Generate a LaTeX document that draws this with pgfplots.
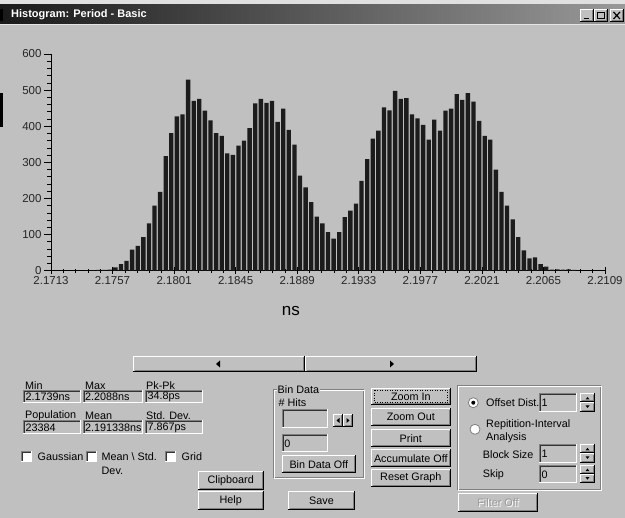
\documentclass[border=0pt]{standalone}
\usepackage{pgfplots}
\pgfplotsset{compat=1.18}
\usepackage{pgfplotstable}
\usepackage{fontspec}
\setmainfont{Liberation Sans}
\definecolor{winbg}{RGB}{192,192,192}
\definecolor{barcol}{RGB}{28,28,28}
\definecolor{dkgray}{RGB}{128,128,128}
\newcommand{\ui}{\fontsize{10.8}{12}\selectfont}

\pgfplotstableread{
x y
2.1739 1
2.1743 1
2.1747 2
2.1751 2
2.1755 3
2.1759 9
2.1763 18
2.1767 27
2.1771 58
2.1775 69
2.1779 93
2.1783 131
2.1787 180
2.1791 218
2.1795 317
2.1799 381
2.1803 427
2.1807 433
2.1811 529
2.1815 470
2.1819 476
2.1823 443
2.1827 416
2.1831 381
2.1835 373
2.1839 325
2.1843 321
2.1847 346
2.1851 360
2.1855 395
2.1859 463
2.1863 476
2.1867 465
2.1871 470
2.1875 412
2.1879 449
2.1883 390
2.1887 349
2.1891 263
2.1895 231
2.1899 190
2.1903 150
2.1907 131
2.1911 107
2.1915 89
2.1919 107
2.1923 148
2.1927 166
2.1931 186
2.1935 249
2.1939 309
2.1943 366
2.1947 388
2.1951 452
2.1955 444
2.1959 498
2.1963 476
2.1967 478
2.1971 433
2.1975 422
2.1979 404
2.1983 363
2.1987 418
2.1991 388
2.1995 443
2.1999 449
2.2003 489
2.2007 473
2.2011 492
2.2015 468
2.2019 415
2.2023 373
2.2027 363
2.2031 280
2.2035 218
2.2039 180
2.2043 142
2.2047 93
2.2051 56
2.2055 34
2.2059 37
2.2063 18
2.2067 11
2.2071 3
2.2075 4
2.2079 3
2.2083 4
2.2087 2
}\histdata

% raised 3D box: x1 y1 x2 y2 (image pixel coordinates, y downward)
\newcommand{\raised}[4]{%
  \fill[winbg] (#1,#2) rectangle (#3,#4);
  \draw[white, line width=1pt] (#1+0.5,#4-1) -- (#1+0.5,#2+0.5) -- (#3-1,#2+0.5);
  \draw[dkgray, line width=1pt] (#1+1.5,#4-1.5) -- (#3-1.5,#4-1.5) -- (#3-1.5,#2+1.5);
  \draw[black, line width=1pt] (#1,#4-0.5) -- (#3-0.5,#4-0.5) -- (#3-0.5,#2);
}
% sunken box
\newcommand{\sunken}[5]{%
  \fill[#5] (#1,#2) rectangle (#3,#4);
  \draw[dkgray, line width=1pt] (#1+0.5,#4) -- (#1+0.5,#2+0.5) -- (#3,#2+0.5);
  \draw[black!80, line width=1pt] (#1+1.5,#4-1) -- (#1+1.5,#2+1.5) -- (#3-1,#2+1.5);
  \draw[white, line width=1pt] (#1,#4-0.5) -- (#3-0.5,#4-0.5) -- (#3-0.5,#2);
}
\newcommand{\btn}[5]{%
  \raised{#1}{#2}{#3}{#4}
  \node[font=\ui, inner sep=0pt] at ({(#1+#3)/2},{(#2+#4)/2}) {#5};
}
\newcommand{\field}[5]{%
  \sunken{#1}{#2}{#3}{#4}{winbg}
  \node[font=\ui, inner sep=0pt, anchor=west] at (#1+2.5,{(#2+#4)/2+0.5}) {#5};
}
\newcommand{\spinner}[4]{%
  \pgfmathsetmacro{\spmid}{(#2+#4)/2}%
  \pgfmathsetmacro{\spx}{(#1+#3)/2}%
  \raised{#1}{#2}{#3}{\spmid}
  \raised{#1}{\spmid}{#3}{#4}
  \fill (\spx-2,\spmid-3) -- (\spx+2,\spmid-3) -- (\spx,\spmid-5.5) -- cycle;
  \fill (\spx-2,\spmid+3) -- (\spx+2,\spmid+3) -- (\spx,\spmid+5.5) -- cycle;
}
\newcommand{\checkbox}[2]{%
  \sunken{#1}{#2}{#1+11.5}{#2+11.5}{white}
}
\newcommand{\etched}[4]{%
  \draw[dkgray, line width=1pt] (#1,#2) rectangle (#3,#4);
  \draw[white, line width=1pt] (#1+1,#2+1) -- (#3+1,#2+1) -- (#3+1,#4+1) -- (#1+1,#4+1) -- cycle;
}

\begin{document}
\begin{tikzpicture}
\useasboundingbox (0,0) rectangle (625pt,-518pt);
\fill[winbg] (0,0) rectangle (625pt,-518pt);

\begin{axis}[
  at={(51pt,-270.7pt)}, anchor=south west,
  scale only axis, width=554pt, height=216.7pt,
  xmin=2.1713, xmax=2.2109, ymin=0, ymax=600,
  ybar, bar width=0.00031,
  axis lines*=left,
  axis line style={black, line width=0.9pt, -},
  xtick={2.1713,2.1757,2.1801,2.1845,2.1889,2.1933,2.1977,2.2021,2.2065,2.2109},
  xticklabels={2.1713,2.1757,2.1801,2.1845,2.1889,2.1933,2.1977,2.2021,2.2065,2.2109},
  minor x tick num=4,
  ytick={0,100,...,600},
  minor y tick num=4,
  /pgf/number format/assume math mode=true,
  xtick align=center, ytick align=outside,
  major tick length=7pt, minor tick length=4pt,
  tick style={black, line width=0.7pt},
  ticklabel style={font=\fontsize{11.5}{13}\selectfont, text=black!85},
  xticklabel style={yshift=1pt},
  yticklabel style={xshift=1pt},
  xlabel={ns},
  xlabel style={font=\fontsize{17}{19}\selectfont, at={(axis description cs:0.433,-0.186)}, anchor=center},
]
\addplot[fill=barcol, draw=none] table {\histdata};
\end{axis}

\begin{scope}[x=1pt, y=-1pt]
% window frame / title bar
\fill[black!12] (0,0) rectangle (625,5);
\shade[left color=black!90, right color=black!40] (0,5) rectangle (625,24);
\draw[white!90!black, line width=1pt] (0,24.5) -- (625,24.5);
\fill[black] (0,9) rectangle (3,21);
\node[anchor=west, text=white, inner sep=0pt, font=\fontsize{11}{13}\bfseries\selectfont] at (11,14.5) {Histogram: Period - Basic};
\raised{580}{9}{594}{22}
\raised{594}{9}{608}{22}
\raised{610}{9}{624}{22}
\draw[black, line width=1.5pt] (583.5,18.5) -- (589,18.5);
\draw[black, line width=0.8pt] (597.5,12.5) rectangle (604.5,18.5);
\draw[black, line width=1.2pt] (613.5,12) -- (620,19) (613.5,19) -- (620,12);
\fill[black] (0,93) rectangle (2.5,127);

% scroll bar
\raised{133}{356}{305}{372}
\raised{305}{356}{477}{372}
\fill[black] (216,364) -- (220,360.5) -- (220,367.5) -- cycle;
\fill[black] (394,364) -- (390,360.5) -- (390,367.5) -- cycle;

% statistics fields
\node[font=\ui, inner sep=0pt, anchor=west] at (25,386) {Min};
\node[font=\ui, inner sep=0pt, anchor=west] at (85,386) {Max};
\node[font=\ui, inner sep=0pt, anchor=west] at (146,386) {Pk-Pk};
\field{23}{390}{81}{403}{2.1739ns}
\field{82.5}{390}{143}{403}{2.2088ns}
\field{145}{390}{203}{403}{34.8ps}
\node[font=\ui, inner sep=0pt, anchor=west] at (25,416) {Population};
\node[font=\ui, inner sep=0pt, anchor=west] at (85,416) {Mean};
\node[font=\ui, inner sep=0pt, anchor=west] at (146,416) {Std. Dev.};
\field{23}{420}{81}{434}{23384}
\field{82.5}{420}{143}{434}{2.191338ns}
\field{145}{420}{203}{434}{7.867ps}

% check boxes
\checkbox{20.5}{451}
\node[font=\ui, inner sep=0pt, anchor=west] at (37.5,457) {Gaussian};
\checkbox{85.5}{451}
\node[font=\ui, inner sep=0pt, anchor=west] at (101.5,457) {Mean \textbackslash{} Std.};
\node[font=\ui, inner sep=0pt, anchor=west] at (101.5,471) {Dev.};
\checkbox{164.5}{451}
\node[font=\ui, inner sep=0pt, anchor=west] at (181.5,457) {Grid};

% buttons lower left
\btn{198}{471}{263.5}{490.5}{Clipboard}
\btn{198}{491}{263.5}{510}{Help}
\btn{288}{491.5}{355}{510.5}{Save}

% Bin Data group
\etched{273}{390}{363}{477.5}
\node[font=\ui, fill=winbg, inner sep=1pt, anchor=west] at (276.5,390) {Bin Data};
\node[font=\ui, inner sep=0pt, anchor=west] at (278.5,403) {\# Hits};
\field{281.7}{409}{328.3}{428.3}{}
\raised{333}{414}{343}{427}
\raised{343}{414}{353}{427}
\fill (336.5,420.5) -- (339.5,418) -- (339.5,423) -- cycle;
\fill (349.5,420.5) -- (346.5,418) -- (346.5,423) -- cycle;
\field{281.7}{434}{328.3}{451.7}{0}
\btn{281.7}{455}{356}{473.5}{Bin Data Off}

% column of buttons
\btn{371}{387.7}{450.7}{405.5}{Zoom In}
\draw[black, dotted, line width=0.5pt] (374,390.5) rectangle (447.5,402.5);
\btn{371}{408.3}{450.7}{426}{Zoom Out}
\btn{371}{429.3}{450.7}{447}{Print}
\btn{371}{449.3}{450.7}{467}{Accumulate Off}
\btn{371}{469.3}{450.7}{487}{Reset Graph}

% right group
\etched{457.3}{386}{600.7}{490}
\fill[white] (473.3,402.7) circle (5);
\draw[dkgray, line width=0.8pt] (473.3,402.7) circle (5);
\fill[black] (473.3,402.7) circle (2);
\node[font=\ui, inner sep=0pt, anchor=west] at (486,402.7) {Offset Dist.};
\field{539}{393.3}{576.7}{411.7}{1}
\spinner{580}{393.3}{595}{411.7}
\fill[white] (475,429.3) circle (5);
\draw[dkgray, line width=0.8pt] (475,429.3) circle (5);
\node[font=\ui, inner sep=0pt, anchor=west] at (486,424.3) {Repitition-Interval};
\node[font=\ui, inner sep=0pt, anchor=west] at (486,437.7) {Analysis};
\node[font=\ui, inner sep=0pt, anchor=west] at (482.7,454.5) {Block Size};
\field{539}{444}{576.7}{462.7}{1}
\spinner{580}{444}{595}{462.7}
\node[font=\ui, inner sep=0pt, anchor=west] at (482.7,475) {Skip};
\field{539}{465}{576.7}{483.3}{0}
\spinner{580}{465}{595}{483.3}
\raised{458.3}{493.3}{537.7}{511.7}
\node[font=\ui, inner sep=0pt, text=white] at (499,503.5) {Filter Off};
\node[font=\ui, inner sep=0pt, text=dkgray!80!white] at (498,502.5) {Filter Off};
\end{scope}
\end{tikzpicture}
\end{document}
